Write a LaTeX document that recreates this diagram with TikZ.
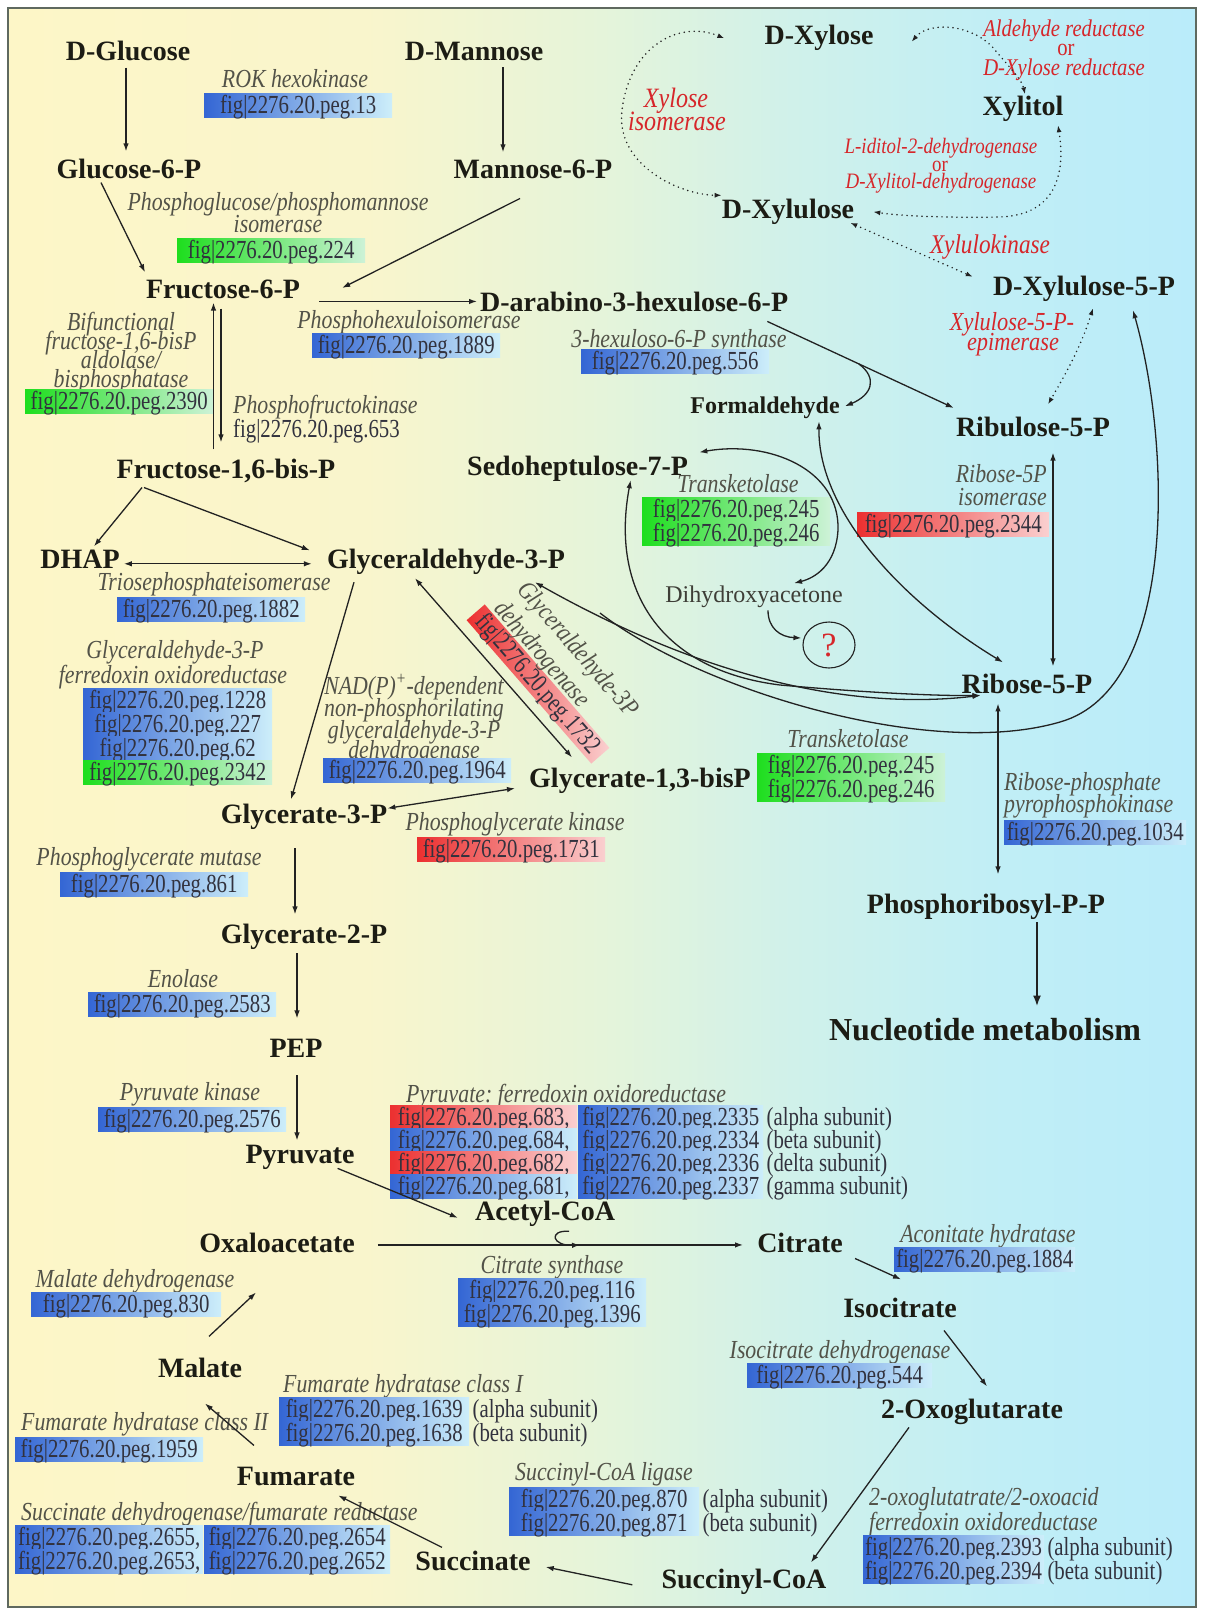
\documentclass[tikz,border=0pt]{standalone}
\usepackage{fontspec}
\setmainfont{Liberation Serif}
\newfontfamily\metfam{Liberation Serif}
\newfontfamily\enzfam{Liberation Serif}[FakeStretch=0.84]
\newfontfamily\figfam{Liberation Serif}[FakeStretch=0.80]
\newfontfamily\rxnfam{Liberation Serif}[FakeStretch=0.86]
\usetikzlibrary{calc,arrows.meta,shapes.geometric}
\frenchspacing

\definecolor{bgA}{RGB}{253,246,199}
\definecolor{bgB}{RGB}{249,245,204}
\definecolor{bgC}{RGB}{229,244,218}
\definecolor{bgD}{RGB}{208,241,234}
\definecolor{bgE}{RGB}{192,238,246}
\definecolor{bgF}{RGB}{186,236,250}
\definecolor{framecol}{RGB}{95,105,95}
\definecolor{metcol}{RGB}{28,28,20}
\definecolor{enzcol}{RGB}{82,82,72}
\definecolor{figcol}{RGB}{50,50,62}
\definecolor{rxncol}{RGB}{214,38,42}
\definecolor{arrcol}{RGB}{34,34,34}
\definecolor{bluL}{RGB}{52,102,212}
\definecolor{bluR}{RGB}{205,238,250}
\definecolor{grnL}{RGB}{30,222,30}
\definecolor{grnR}{RGB}{205,242,215}
\definecolor{redL}{RGB}{236,48,48}
\definecolor{redR}{RGB}{250,208,208}

\pgfdeclarehorizontalshading{bgshade}{100bp}{color(0bp)=(bgA); color(25bp)=(bgA); color(40bp)=(bgB); color(50bp)=(bgC); color(58bp)=(bgD); color(67bp)=(bgE); color(75bp)=(bgF); color(100bp)=(bgF)}

\newcommand{\pg}[1]{fig|2276.20.peg.#1}
\newcommand{\fsz}[1]{\fontsize{#1}{#1}\selectfont}

\tikzset{
  met/.style={font=\metfam\bfseries\fsz{28}, text=metcol, inner sep=3pt, anchor=base},
  plainmet/.style={font=\metfam\fsz{24}, text=metcol!85, inner sep=3pt, anchor=base},
  enz/.style={font=\enzfam\itshape\fsz{26}, text=enzcol, inner sep=0pt, anchor=base},
  rxn/.style={font=\rxnfam\itshape\fsz{24}, text=rxncol, inner sep=0pt, anchor=base},
  figtxt/.style={font=\figfam\fsz{26}, text=figcol, inner sep=0pt},
  pegbox/.style={figtxt, minimum width=188pt, text height=19pt, text depth=4pt,
                 inner xsep=2pt, inner ysep=0.5pt, anchor=base west},
  bluebox/.style={pegbox, left color=bluL, right color=bluR},
  greenbox/.style={pegbox, left color=grnL, right color=grnR},
  redbox/.style={pegbox, left color=redL, right color=redR},
  subunit/.style={figtxt, anchor=base west},
  arr/.style={draw=arrcol, line width=1.3pt, -{Latex[length=8pt,width=5.5pt]}},
  darr/.style={draw=arrcol, line width=1.3pt, {Latex[length=8pt,width=5.5pt]}-{Latex[length=8pt,width=5.5pt]}},
  dotarr/.style={draw=arrcol, line width=1.7pt, line cap=round, dash pattern=on 0pt off 5pt,
                 {Latex[length=7pt,width=5pt]}-{Latex[length=7pt,width=5pt]}}
}

\begin{document}
\begin{tikzpicture}[x=1pt,y=-1pt]
\useasboundingbox (0,0) rectangle (1206,1611);
\fill[white] (0,0) rectangle (1206,1611);
\shade[shading=bgshade] (8,8) rectangle (1196,1607);
\draw[framecol, line width=1.6pt] (8,8) rectangle (1196,1607);

% ---------- metabolites ----------
\node[met] (dglc)  at (128,60)   {D-Glucose};
\node[met] (dman)  at (474,60)   {D-Mannose};
\node[met] (g6p)   at (129,178)  {Glucose-6-P};
\node[met] (m6p)   at (533,178)  {Mannose-6-P};
\node[met] (f6p)   at (223,298)  {Fructose-6-P};
\node[met, anchor=base west] (dara) at (477,311) {D-arabino-3-hexulose-6-P};
\node[met] (f16bp) at (226,478)  {Fructose-1,6-bis-P};
\node[met] (dhap)  at (80,568)   {DHAP};
\node[met] (gap)   at (446,568)  {Glyceraldehyde-3-P};
\node[met, anchor=base west] (sedo) at (464,475) {Sedoheptulose-7-P};
\node[met, font=\metfam\bfseries\fsz{24}] (formal) at (765,413) {Formaldehyde};
\node[met] (ru5p)  at (1033,436) {Ribulose-5-P};
\node[met] (dxyl)  at (819,45)   {D-Xylose};
\node[met] (xylitol) at (1023,115) {Xylitol};
\node[met] (dxylu) at (788,218)  {D-Xylulose};
\node[met] (dxu5p) at (1084,295) {D-Xylulose-5-P};
\node[plainmet] (dha) at (754,602) {Dihydroxyacetone};
\node[ellipse, draw=arrcol, line width=1.1pt, minimum width=52pt, minimum height=46pt,
      inner sep=0pt, text=rxncol, font=\metfam\fsz{34}] (qm) at (829,645) {?};
\node[met] (r5p)   at (1027,693) {Ribose-5-P};
\node[met] (g13bp) at (640,787)  {Glycerate-1,3-bisP};
\node[met] (g3p)   at (304,823)  {Glycerate-3-P};
\node[met] (g2p)   at (304,943)  {Glycerate-2-P};
\node[met] (pep)   at (296,1057) {PEP};
\node[met] (pyr)   at (300,1163) {Pyruvate};
\node[met] (prpp)  at (986,913)  {Phosphoribosyl-P-P};
\node[met, font=\metfam\bfseries\fsz{32}] (nucl) at (985,1040) {Nucleotide metabolism};
\node[met] (accoa) at (545,1220) {Acetyl-CoA};
\node[met] (oaa)   at (277,1252) {Oxaloacetate};
\node[met] (cit)   at (800,1252) {Citrate};
\node[met] (icit)  at (900,1317) {Isocitrate};
\node[met] (oxg)   at (972,1418) {2-Oxoglutarate};
\node[met] (mal)   at (200,1377) {Malate};
\node[met] (fum)   at (296,1485) {Fumarate};
\node[met] (succ)  at (473,1570) {Succinate};
\node[met] (scoa)  at (744,1588) {Succinyl-CoA};

% ---------- enzymes: upper glycolysis ----------
\node[enz] (rok) at (295,87) {ROK hexokinase};
\node[bluebox] (p13) at (204,113) {\pg{13}};
\node[enz] (pgi1) at (278,210) {Phosphoglucose/phosphomannose};
\node[enz] (pgi2) at (278,232) {isomerase};
\node[greenbox] (p224) at (177,258) {\pg{224}};
\node[enz] (fba1) at (121,330) {Bifunctional};
\node[enz] (fba2) at (121,349) {fructose-1,6-bisP};
\node[enz] (fba3) at (121,368) {aldolase/};
\node[enz] (fba4) at (121,387) {bisphosphatase};
\node[greenbox] (p2390) at (25,409) {\pg{2390}};
\node[enz, anchor=base west] (pfk) at (233,413) {Phosphofructokinase};
\node[figtxt, anchor=base west] (p653) at (233,437) {\pg{653}};
\node[enz] (phi) at (409,328) {Phosphohexuloisomerase};
\node[bluebox] (p1889) at (312,353) {\pg{1889}};
\node[enz] (hps) at (679,347) {3-hexuloso-6-P synthase};
\node[bluebox] (p556) at (581,369) {\pg{556}};

% ---------- pentose phosphate ----------
\node[enz] (tk1) at (738,492) {Transketolase};
\node[greenbox] (p245a) at (642,517) {\pg{245}};
\node[greenbox] (p246a) at (642,541) {\pg{246}};
\node[enz, anchor=base east] (rpi1) at (1047,482) {Ribose-5P};
\node[enz, anchor=base east] (rpi2) at (1047,505) {isomerase};
\node[redbox, minimum width=192pt] (p2344) at (857,532) {\pg{2344}};
\node[enz] (tk2) at (848,747) {Transketolase};
\node[greenbox] (p245b) at (757,773) {\pg{245}};
\node[greenbox] (p246b) at (757,797) {\pg{246}};
\node[enz, anchor=base west] (prs1) at (1004,790) {Ribose-phosphate};
\node[enz, anchor=base west] (prs2) at (1004,812) {pyrophosphokinase};
\node[bluebox, minimum width=182pt] (p1034) at (1004,840) {\pg{1034}};

% ---------- triose / lower glycolysis ----------
\node[enz] (tpi) at (214,590) {Triosephosphateisomerase};
\node[bluebox] (p1882) at (117,617) {\pg{1882}};
\node[enz] (gor1) at (175,658) {Glyceraldehyde-3-P};
\node[enz] (gor2) at (173,683) {ferredoxin oxidoreductase};
\node[bluebox, minimum width=189pt] (p1228) at (83,708) {\pg{1228}};
\node[bluebox, minimum width=189pt] (p227)  at (83,732) {\pg{227}};
\node[bluebox, minimum width=189pt] (p62)   at (83,756) {\pg{62}};
\node[greenbox, minimum width=189pt] (p2342) at (83,780) {\pg{2342}};
\node[enz] (gapn1) at (414,694) {NAD(P)\textsuperscript{+}-dependent};
\node[enz] (gapn2) at (414,716) {non-phosphorilating};
\node[enz] (gapn3) at (414,738) {glyceraldehyde-3-P};
\node[enz] (gapn4) at (414,758) {dehydrogenase};
\node[bluebox] (p1964) at (323,778) {\pg{1964}};
\node[redbox, anchor=center, rotate=-49, minimum width=190pt] (p1732) at (538,684) {\pg{1732}};
\node[enz, anchor=center, rotate=-49] (gapdh1) at (577,650) {Glyceraldehyde-3P};
\node[enz, anchor=center, rotate=-49] (gapdh2) at (541,655) {dehydrogenase};
\node[enz] (pgk) at (515,830) {Phosphoglycerate kinase};
\node[redbox] (p1731) at (417,857) {\pg{1731}};
\node[enz] (pgm) at (149,865) {Phosphoglycerate mutase};
\node[bluebox] (p861) at (60,892) {\pg{861}};
\node[enz] (eno) at (183,987) {Enolase};
\node[bluebox] (p2583) at (88,1012) {\pg{2583}};
\node[enz] (pyk) at (190,1100) {Pyruvate kinase};
\node[bluebox] (p2576) at (98,1127) {\pg{2576}};

% ---------- pyruvate:ferredoxin oxidoreductase ----------
\node[enz, anchor=base west] (por) at (406,1102) {Pyruvate: ferredoxin oxidoreductase};
\node[redbox,  minimum width=187pt] (p683) at (390,1125) {\pg{683},};
\node[bluebox, minimum width=187pt] (p684) at (390,1148) {\pg{684},};
\node[redbox,  minimum width=187pt] (p682) at (390,1171) {\pg{682},};
\node[bluebox, minimum width=187pt] (p681) at (390,1194) {\pg{681},};
\node[bluebox, minimum width=185pt] (p2335) at (578,1125) {\pg{2335}};
\node[bluebox, minimum width=185pt] (p2334) at (578,1148) {\pg{2334}};
\node[bluebox, minimum width=185pt] (p2336) at (578,1171) {\pg{2336}};
\node[bluebox, minimum width=185pt] (p2337) at (578,1194) {\pg{2337}};
\node[subunit] (su1) at ($(p2335.base east)+(3,0)$) {(alpha subunit)};
\node[subunit] (su2) at ($(p2334.base east)+(3,0)$) {(beta subunit)};
\node[subunit] (su3) at ($(p2336.base east)+(3,0)$) {(delta subunit)};
\node[subunit] (su4) at ($(p2337.base east)+(3,0)$) {(gamma subunit)};

% ---------- TCA cycle ----------
\node[enz] (cs) at (552,1273) {Citrate synthase};
\node[bluebox] (p116) at (458,1298) {\pg{116}};
\node[bluebox] (p1396) at (458,1322) {\pg{1396}};
\node[enz] (acn) at (988,1242) {Aconitate hydratase};
\node[bluebox, minimum width=181pt] (p1884) at (894,1267) {\pg{1884}};
\node[enz] (mdh) at (135,1287) {Malate dehydrogenase};
\node[bluebox, minimum width=190pt] (p830) at (31,1312) {\pg{830}};
\node[enz] (idh) at (840,1358) {Isocitrate dehydrogenase};
\node[bluebox, minimum width=185pt] (p544) at (747,1383) {\pg{544}};
\node[enz, anchor=base west] (fh1) at (283,1392) {Fumarate hydratase class I};
\node[bluebox, minimum width=190pt] (p1639) at (279,1417) {\pg{1639}};
\node[bluebox, minimum width=190pt] (p1638) at (279,1441) {\pg{1638}};
\node[subunit] (su5) at ($(p1639.base east)+(3,0)$) {(alpha subunit)};
\node[subunit] (su6) at ($(p1638.base east)+(3,0)$) {(beta subunit)};
\node[enz, anchor=base west] (fh2) at (21,1430) {Fumarate hydratase class II};
\node[bluebox] (p1959) at (15,1457) {\pg{1959}};
\node[enz, anchor=base west] (scs) at (515,1480) {Succinyl-CoA ligase};
\node[bluebox, minimum width=190pt] (p870) at (509,1507) {\pg{870}};
\node[bluebox, minimum width=190pt] (p871) at (509,1531) {\pg{871}};
\node[subunit] (su7) at ($(p870.base east)+(3,0)$) {(alpha subunit)};
\node[subunit] (su8) at ($(p871.base east)+(3,0)$) {(beta subunit)};
\node[enz, anchor=base west] (kor1) at (869,1505) {2-oxoglutatrate/2-oxoacid};
\node[enz, anchor=base west] (kor2) at (869,1530) {ferredoxin oxidoreductase};
\node[bluebox, minimum width=180pt] (p2393) at (863,1555) {\pg{2393}};
\node[bluebox, minimum width=180pt] (p2394) at (863,1579) {\pg{2394}};
\node[subunit] (su9) at ($(p2393.base east)+(3,0)$) {(alpha subunit)};
\node[subunit] (su10) at ($(p2394.base east)+(3,0)$) {(beta subunit)};
\node[enz, anchor=base west] (sdh) at (21,1520) {Succinate dehydrogenase/fumarate reductase};
\node[bluebox] (p2655) at (15,1545) {\pg{2655},};
\node[bluebox, minimum width=186pt] (p2654) at (204,1545) {\pg{2654}};
\node[bluebox] (p2653) at (15,1569) {\pg{2653},};
\node[bluebox, minimum width=186pt] (p2652) at (204,1569) {\pg{2652}};

% ---------- xylose branch labels ----------
\node[rxn] (xi1) at (676,107) {\fsz{28}Xylose};
\node[rxn] (xi2) at (677,130) {\fsz{28}isomerase};
\node[rxn] (ar1) at (1064,37) {Aldehyde reductase};
\node[rxn] (ar2) at (1066,56) {\upshape or};
\node[rxn] (ar3) at (1064,75) {D-Xylose reductase};
\node[rxn] (xdh1) at (941,153) {\fsz{22}L-iditol-2-dehydrogenase};
\node[rxn] (xdh2) at (940,171) {\fsz{22}\upshape or};
\node[rxn] (xdh3) at (941,188) {\fsz{22}D-Xylitol-dehydrogenase};
\node[rxn] (xk) at (990,253) {\fsz{27}Xylulokinase};
\node[rxn] (xe1) at (1012,330) {\fsz{26}Xylulose-5-P-};
\node[rxn] (xe2) at (1013,350) {\fsz{26}epimerase};

% ---------- connector end points ----------
\coordinate (gapR)   at ($(gap.south)+(89,5)$);
\coordinate (r5pL)   at ($(r5p.west)+(22,12)$);
\coordinate (r5pT)   at ($(r5p.north)+(-24,-8)$);
\coordinate (r5pT2)  at ($(r5p.north)+(26,-4)$);
\coordinate (r5pB)   at ($(r5p.south)+(-29,7)$);
\coordinate (prppT)  at ($(prpp.north)+(12,-16)$);
\coordinate (sedoB)  at ($(sedo.south)+(53,-4)$);
\coordinate (sedoE)  at ($(sedo.east)+(8,-16)$);
\coordinate (formB)  at ($(formal.south)+(54,0)$);
\coordinate (formE)  at ($(formal.east)+(2,-1)$);
\coordinate (dhaT)   at ($(dha.north)+(40,1)$);
\coordinate (dhaB)   at ($(dha.south)+(14,0)$);
\coordinate (qmW)    at ($(qm.west)+(-1,-7)$);
\coordinate (daraE)  at ($(dara.east)+(-24,20)$);
\coordinate (ru5pW)  at ($(ru5p.west)+(1,-18.5)$);
\coordinate (ru5pT)  at ($(ru5p.north)+(15,-9)$);
\coordinate (ru5pB)  at ($(ru5p.south)+(20,13)$);
\coordinate (xu5pB)  at ($(dxu5p.south)+(49,6)$);
\coordinate (xu5pB2) at ($(dxu5p.south)+(9,4)$);
\coordinate (hxBr)   at ($(daraE)!0.49!(ru5pW)$);
\coordinate (tkBr)   at (600,613);
\coordinate (acS)    at ($(accoa.south)+(24,2)$);
\coordinate (xiA) at ($(dxyl.west)+(-37,0)$);
\coordinate (xiB) at ($(dxylu.west)+(3,-16)$);
\coordinate (arA) at ($(dxyl.east)+(35,3.5)$);
\coordinate (arB) at ($(xylitol.north)+(2,2)$);
\coordinate (ixA) at ($(xylitol.south)+(35,1)$);
\coordinate (ixB) at ($(dxylu.east)+(16,0.5)$);
\coordinate (xkA) at ($(dxylu.east)+(-7,11.5)$);
\coordinate (xkB) at ($(dxu5p.west)+(-17,-11.5)$);

% ---------- glycolysis connectors ----------
\draw[arr] ($(dglc.south)+(-2,4)$) -- ($(g6p.north)+(-3,-4)$);
\draw[arr] ($(dman.south)+(29,4)$) -- ($(m6p.north)+(-30,-4)$);
\draw[arr] ($(g6p.south)+(-28,1)$) -- ($(f6p.north)+(-78,-4)$);
\draw[arr] ($(m6p.south)+(-13,17)$) -- ($(f6p.east)+(39,-1)$);
\draw[arr] ($(f6p.east |- dara.west)+(16,0)$) -- (dara.west);
\draw[arr] ($(f16bp.north)+(-12.5,-6)$) -- ($(f6p.south)+(-9.5,1)$);
\draw[arr] ($(f6p.south)+(-2,7)$) -- ($(f16bp.north)+(-5,-13)$);
\draw[arr] ($(f16bp.south)+(-84,2)$) -- ($(dhap.north)+(14,0)$);
\draw[arr] ($(f16bp.south)+(-82,2)$) -- ($(gap.west)+(-14,-11)$);
\draw[darr] ($(dhap.east)+(1,5)$) -- ($(gap.west |- dhap.east)+(-12,5)$);
\draw[arr] ($(gap.south)+(-92,5)$) -- ($(g3p.north)+(-13,-1)$);
\draw[darr] ($(g3p.east)+(-3,-8)$) -- ($(g13bp.west)+(-11,8)$);
\draw[darr] ($(gap.south)+(-31,1)$) -- ($(g13bp.north)+(-68,-7)$);
\draw[arr] ($(g3p.south)+(-9,16)$) -- ($(g2p.north)+(-9,-6)$);
\draw[arr] ($(g2p.south)+(-7,1)$) -- ($(pep.north)+(1,-17)$);
\draw[arr] ($(pep.south)+(1,15)$) -- ($(pyr.north)+(-3,-1)$);
\draw[arr] ($(pyr.east)+(-20,11.5)$) -- ($(accoa.west)+(-14,4.5)$);

% ---------- pentose phosphate connectors ----------
\draw[arr] (daraE) -- (ru5pW);
\draw[arr] (hxBr) .. controls (878,378) and (872,395) .. (formE);
\draw[darr] (gapR) .. controls (690,670) and (840,712) .. (r5pL);
\draw[darr] (sedoB) .. controls (610,590) and (660,670) .. (780,685) .. controls (870,693) and (940,696) .. (r5pL);
\draw[arr] (tkBr) .. controls (700,690) and (930,760) .. (1060,722) .. controls (1180,688) and (1170,440) .. (xu5pB);
\draw[darr] (formB) .. controls (818,510) and (900,600) .. (r5pT);
\draw[darr] (sedoE) .. controls (770,440) and (840,470) .. (838,530) .. controls (836,565) and (815,578) .. (dhaT);
\draw[arr] (dhaB) .. controls (768,628) and (780,637) .. (qmW);
\draw[darr] (ru5pB) -- (r5pT2);
\draw[darr] (r5pB) -- (prppT);
\draw[draw=arrcol, line width=2.4pt, -{Latex[length=11pt,width=8pt]}] ($(prpp.south)+(51,0)$) -- ($(nucl.north)+(52,-8)$);

% ---------- xylose branch connectors ----------
\draw[dotarr] (xiA) .. controls (680,20) and (630,45) .. (622,110) .. controls (615,165) and (680,195) .. (xiB);
\draw[dotarr] (arA) .. controls (930,20) and (975,25) .. (995,50) .. controls (1010,68) and (1022,80) .. (arB);
\draw[dotarr] (ixA) .. controls (1066,175) and (1055,215) .. (1000,217) .. controls (950,218) and (900,216) .. (ixB);
\draw[dotarr] (xkA) -- (xkB);
\draw[dotarr] (xu5pB2) .. controls (1080,350) and (1062,380) .. (ru5pT);

% ---------- TCA connectors ----------
\draw[arr] ($(oaa.east)+(20,2.5)$) -- ($(cit.west)+(-11,2.5)$);
\draw[arr] (acS) .. controls (548,1230) and (552,1246) .. (580,1245);
\draw[arr] ($(cit.south)+(55,3)$) -- ($(icit.north)+(1,-15)$);
\draw[arr] ($(icit.south)+(44,10)$) -- ($(oxg.north)+(15,-9)$);
\draw[arr] ($(oxg.south)+(-63,0)$) -- ($(scoa.north)+(67,-3)$);
\draw[arr] ($(scoa.west)+(-26,3.5)$) -- ($(succ.east)+(12,6.5)$);
\draw[arr] ($(succ.north)+(-31,0)$) -- ($(fum.east)+(-20,19.5)$);
\draw[arr] ($(fum.north)+(-42,-18)$) -- ($(mal.south)+(5,23)$);
\draw[arr] ($(mal.north)+(9,-18)$) -- ($(oaa.south)+(-21,37)$);
\end{tikzpicture}
\end{document}
